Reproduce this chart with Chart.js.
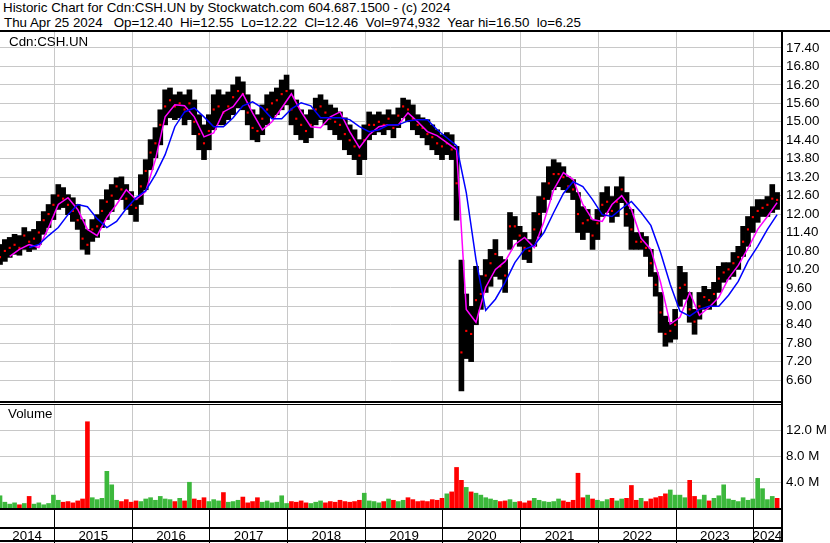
<!DOCTYPE html>
<html lang="en">
<head>
<meta charset="UTF-8">
<title>Historic Chart for Cdn:CSH.UN</title>
<script src="https://cdn.jsdelivr.net/npm/chart.js"></script>
<style>
  body { margin: 0; background: #fff; font-family: Arial, "Liberation Sans", sans-serif; }
  #wrap { position: relative; width: 830px; height: 543px; overflow: hidden; background: #fff; }
  .txt { position: absolute; font-size: 13.33px; line-height: 14px; color: #000; white-space: pre; }
  .ln { position: absolute; background: #000; }
  #priceBox { position: absolute; left: 0; top: 32px; }
  #volBox { position: absolute; left: 0; top: 405px; }
</style>
</head>
<body>
<div id="wrap">
  <div class="txt" style="left:3px;top:1px">Historic Chart for Cdn:CSH.UN by Stockwatch.com 604.687.1500 - (c) 2024</div>
  <div class="txt" style="left:4px;top:16px">Thu Apr 25 2024   Op=12.40  Hi=12.55  Lo=12.22  Cl=12.46  Vol=974,932  Year hi=16.50  lo=6.25</div>

  <div id="priceBox"><canvas id="price" width="830" height="369"></canvas></div>
  <div id="volBox"><canvas id="vol" width="830" height="138"></canvas></div>

  <div class="txt" style="left:9px;top:35px">Cdn:CSH.UN</div>
  <div class="txt" style="left:8px;top:407px">Volume</div>

  <!-- frame lines -->
  <div class="ln" style="left:0;top:30px;width:830px;height:2px"></div>
  <div class="ln" style="left:781px;top:30px;width:2px;height:512px"></div>
  <div class="ln" style="left:0;top:401px;width:781px;height:2px"></div>
  <div class="ln" style="left:0;top:404px;width:781px;height:1px"></div>
  <div class="ln" style="left:0;top:508px;width:781px;height:2px"></div>
  <div class="ln" style="left:0;top:527px;width:781px;height:2px"></div>
  <div class="ln" style="left:0;top:540px;width:783px;height:2px"></div>
</div>

<script>
// ---- data ----
// one bar every 1/16 year starting mid-April 2014
const START = 2014.30;
const STEP = 1 / 16;
const MA_STEP = 1 / 8;
const X_MIN = 2014.30;
const X_MAX = 2024.35;

const highs = [
  11.01, 11.17, 11.24, 11.34, 11.30, 11.56, 11.43, 11.50, 11.76, 12.08,
  12.31, 12.63, 12.96, 12.86, 12.63, 12.53, 12.31, 11.82, 11.50, 11.82,
  11.98, 12.47, 12.79, 12.96, 13.18, 13.21, 12.96, 12.73, 12.47, 13.28,
  13.77, 14.42, 14.81, 15.39, 16.04, 16.10, 15.88, 15.97, 15.88, 16.04,
  15.71, 15.23, 14.90, 15.23, 15.88, 16.04, 15.88, 15.97, 16.20, 16.46,
  16.30, 15.88, 15.39, 15.23, 15.55, 15.88, 15.97, 16.10, 16.36, 16.52,
  16.04, 15.71, 15.39, 15.23, 15.39, 15.77, 15.88, 15.71, 15.55, 15.45,
  15.32, 15.13, 14.90, 14.74, 14.42, 14.90, 15.32, 15.23, 15.32, 15.23,
  15.39, 15.23, 15.45, 15.77, 15.71, 15.55, 15.23, 15.13, 15.07, 14.90,
  14.74, 14.58, 14.65, 14.58, 14.20, 10.50, 9.40, 9.00, 10.30, 10.00,
  10.52, 10.85, 11.17, 10.62, 10.52, 12.05, 11.92, 11.60, 11.40, 11.17,
  12.05, 12.57, 13.02, 13.54, 13.77, 13.67, 13.54, 13.21, 13.12, 12.70,
  12.24, 12.15, 11.82, 12.15, 12.70, 12.89, 12.57, 12.89, 13.21, 12.70,
  12.15, 11.40, 11.40, 11.27, 10.85, 10.10, 9.45, 8.68, 8.48, 8.90,
  10.30, 10.10, 9.45, 8.90, 9.45, 9.65, 9.55, 9.78, 10.30, 10.42,
  10.42, 10.75, 10.95, 11.60, 11.92, 12.24, 12.47, 12.47, 12.57, 12.96,
  12.70
];
const lows = [
  10.36, 10.46, 10.59, 10.69, 10.66, 10.85, 10.78, 10.85, 11.01, 11.34,
  11.56, 11.82, 12.15, 12.21, 11.98, 11.76, 11.50, 10.85, 10.69, 11.11,
  11.24, 11.56, 11.82, 12.08, 12.47, 12.47, 12.15, 11.98, 11.76, 12.31,
  12.79, 13.44, 13.83, 14.25, 14.90, 15.13, 15.07, 15.13, 14.90, 15.07,
  14.58, 14.09, 13.77, 14.09, 14.74, 14.90, 14.90, 15.07, 15.23, 15.45,
  15.39, 14.90, 14.42, 14.35, 14.58, 14.90, 15.13, 15.23, 15.39, 15.55,
  14.90, 14.58, 14.42, 14.32, 14.48, 14.90, 15.07, 14.90, 14.74, 14.58,
  14.42, 14.09, 13.93, 13.77, 13.28, 13.77, 14.42, 14.58, 14.67, 14.58,
  14.74, 14.48, 14.81, 15.13, 15.00, 14.74, 14.58, 14.48, 14.25, 14.09,
  13.93, 13.77, 13.93, 13.77, 11.80, 6.25, 7.30, 7.20, 8.40, 8.90,
  9.45, 9.65, 9.97, 9.88, 9.45, 10.85, 11.17, 10.95, 10.52, 10.42,
  10.95, 11.27, 12.05, 12.47, 12.79, 12.89, 12.79, 12.70, 12.47, 11.40,
  11.17, 11.40, 10.85, 11.17, 11.92, 12.05, 11.73, 11.92, 12.37, 11.60,
  10.85, 10.85, 10.85, 10.62, 9.97, 9.33, 8.15, 7.70, 7.83, 7.93,
  9.00, 9.23, 8.48, 8.09, 8.58, 8.90, 8.90, 9.00, 9.45, 9.78,
  9.88, 9.97, 10.20, 10.62, 10.95, 11.40, 11.73, 11.92, 11.92, 12.05,
  12.15
];
const closes = [
  10.6, 10.8, 10.9, 11.0, 10.9, 11.3, 11.1, 11.2, 11.4, 11.8,
  12.0, 12.3, 12.6, 12.5, 12.3, 12.1, 11.8, 11.2, 11.0, 11.5,
  11.6, 12.1, 12.4, 12.6, 12.9, 12.8, 12.5, 12.3, 12.2, 12.9,
  13.4, 14.0, 14.3, 14.9, 15.5, 15.7, 15.5, 15.6, 15.4, 15.6,
  15.0, 14.6, 14.3, 14.7, 15.4, 15.5, 15.3, 15.5, 15.8, 16.0,
  15.9, 15.3, 14.8, 14.7, 15.1, 15.4, 15.6, 15.7, 15.9, 16.0,
  15.4, 15.1, 14.9, 14.7, 14.9, 15.4, 15.5, 15.3, 15.1, 15.0,
  14.9, 14.6, 14.4, 14.2, 13.9, 14.4, 14.9, 14.9, 15.0, 14.9,
  15.1, 14.8, 15.2, 15.5, 15.4, 15.1, 14.9, 14.8, 14.6, 14.5,
  14.3, 14.2, 14.3, 14.1, 13.0, 7.5, 8.2, 8.1, 9.2, 9.4,
  10.0, 10.4, 10.7, 10.3, 10.0, 11.6, 11.6, 11.3, 10.9, 10.8,
  11.5, 12.0, 12.5, 13.0, 13.3, 13.3, 13.2, 12.9, 12.8, 12.0,
  11.7, 11.8, 11.3, 11.7, 12.3, 12.4, 12.1, 12.4, 12.8, 12.0,
  11.5, 11.1, 11.1, 10.9, 10.4, 9.7, 8.8, 8.1, 8.2, 8.4,
  9.6, 9.7, 8.9, 8.5, 9.0, 9.3, 9.2, 9.4, 9.9, 10.1,
  10.2, 10.4, 10.6, 11.1, 11.5, 11.9, 12.1, 12.2, 12.3, 12.5,
  12.46
];
// volume in millions of units
const volumes = [
  1.9, 0.9, 0.6, 0.8, 0.5, 0.7, 1.8, 0.6, 0.8, 0.5,
  0.7, 2.0, 1.2, 0.9, 1.0, 0.8, 1.1, 1.4, 13.4, 1.6,
  1.3, 1.5, 5.7, 3.6, 1.2, 1.0, 1.3, 0.9, 1.1, 1.0,
  1.4, 1.6, 1.2, 1.8, 1.4, 1.3, 1.0, 1.5, 1.1, 4.0,
  1.4, 1.2, 1.6, 1.0, 1.3, 1.1, 2.4, 0.9, 1.0, 1.2,
  1.7, 0.8, 1.0, 1.6, 0.9, 1.1, 0.8, 0.9, 1.9, 0.7,
  1.0, 0.9, 1.1, 0.8, 0.7, 0.9, 1.1, 0.8, 1.0, 0.9,
  1.2, 1.0, 0.9, 1.0, 1.2, 2.3, 1.1, 1.0, 0.8, 1.0,
  1.4, 1.2, 1.0, 1.2, 1.6, 1.3, 1.0, 1.1, 1.0, 1.3,
  1.2, 1.5, 2.2, 2.5, 6.3, 4.3, 3.2, 2.5, 2.3, 2.0,
  1.6, 1.4, 1.2, 1.0, 1.1, 1.3, 0.9, 1.0, 0.8, 1.1,
  1.5, 1.2, 1.0, 0.9, 1.0, 1.4, 1.1, 0.9, 1.2, 5.4,
  1.6, 2.0, 1.4, 1.2, 1.0, 1.3, 1.5, 1.1, 1.4, 1.5,
  3.5, 1.2, 1.5, 1.0, 1.4, 1.6, 1.8, 2.2, 2.8, 2.0,
  2.0, 1.6, 4.3, 1.8, 1.3, 2.0, 1.1, 1.5, 1.9, 3.6,
  1.4, 1.2, 1.0, 1.6, 1.2, 1.4, 4.6, 3.0, 1.3, 1.8,
  1.5
];
// moving averages, one value every 1/8 year
const maShort = [
  null, 10.62, 10.85, 11.01, 10.91, 11.56, 12.31, 12.53, 12.15, 11.50,
  11.30, 11.89, 12.31, 12.79, 12.47, 12.73, 13.77, 15.16, 15.55, 15.52,
  15.16, 14.51, 14.64, 15.32, 15.49, 15.91, 15.29, 14.74, 15.00, 15.45,
  15.91, 15.32, 14.84, 14.81, 15.16, 15.32, 14.68, 14.16, 14.58, 14.84,
  14.90, 14.90, 15.29, 15.00, 14.68, 14.55, 14.32, 14.09, 8.90, 8.48,
  9.62, 10.20, 10.46, 11.01, 11.24, 10.91, 11.76, 12.79, 13.35, 13.12,
  12.31, 11.82, 11.76, 12.31, 12.60, 12.15, 11.21, 10.85, 9.78, 8.42,
  8.64, 9.45, 8.71, 8.97, 9.29, 9.91, 10.33, 10.88, 11.50, 11.92,
  12.37
];
const maLong = [
  null, null, null, 10.91, 11.01, 11.30, 11.56, 11.98, 12.31, 12.24,
  11.85, 11.56, 11.76, 12.18, 12.53, 12.76, 13.28, 13.93, 14.84, 15.32,
  15.45, 15.16, 14.84, 14.84, 15.13, 15.52, 15.65, 15.45, 15.10, 15.10,
  15.42, 15.62, 15.52, 15.13, 15.13, 15.13, 15.07, 14.84, 14.68, 14.74,
  14.90, 14.90, 15.03, 15.07, 15.07, 14.74, 14.48, 14.22, 12.70, 10.52,
  8.87, 9.23, 9.78, 10.42, 10.85, 10.98, 11.40, 12.05, 12.67, 13.05,
  12.89, 12.47, 11.98, 11.92, 12.18, 12.41, 12.05, 11.63, 10.75, 9.71,
  8.84, 8.68, 8.90, 9.00, 9.00, 9.36, 9.81, 10.46, 10.95, 11.50,
  11.98
];
const priceTicks = [6.6, 7.2, 7.8, 8.4, 9.0, 9.6, 10.2, 10.8, 11.4, 12.0, 12.6, 13.2, 13.8, 14.4, 15.0, 15.6, 16.2, 16.8, 17.4];
const volTicks = [4, 8, 12];
const years = [2014, 2015, 2016, 2017, 2018, 2019, 2020, 2021, 2022, 2023, 2024];

// ---- helpers ----
const FONT = { family: 'Arial, "Liberation Sans", sans-serif', size: 13.33 };
const GRID = '#c8c8c8';
const xAt = i => START + i * STEP;
const yearBounds = years.slice(1);
const yearMids = years.map(y => (Math.max(y, X_MIN) + Math.min(y + 1, X_MAX)) / 2);

const rangeData = highs.map((h, i) => ({ x: xAt(i), y: [lows[i], h] }));
const closeData = closes.map((c, i) => ({ x: xAt(i), y: c }));
const maPts = arr => arr.map((v, j) => ({ x: START + j * MA_STEP, y: v })).filter(p => p.y !== null);
const volData = volumes.map((v, i) => ({ x: xAt(i), y: v }));
const volColors = closes.map((c, i) => (i === 0 || c >= closes[i - 1]) ? '#3cb83c' : '#ff0000');

// stop the axes from eating space for their label overhang
const noPad = s => { s.paddingTop = 0; s.paddingBottom = 0; s.paddingLeft = 0; s.paddingRight = 0; };

const commonX = {
  type: 'linear', min: X_MIN, max: X_MAX, offset: false,
  afterBuildTicks: s => { s.ticks = yearBounds.map(v => ({ value: v })); },
  ticks: { display: false },
  border: { display: false }
};

// ---- price chart ----
new Chart(document.getElementById('price'), {
  type: 'bar',
  data: {
    datasets: [
      { type: 'line', label: 'MA short', data: maPts(maShort), borderColor: '#ff00ff', borderWidth: 1.5,
        pointRadius: 0, pointHoverRadius: 0, tension: 0, order: 1 },
      { type: 'line', label: 'MA long', data: maPts(maLong), borderColor: '#0000ff', borderWidth: 1.5,
        pointRadius: 0, pointHoverRadius: 0, tension: 0, order: 0 },
      { type: 'line', label: 'Close', data: closeData, showLine: false, pointStyle: 'rect',
        pointRadius: 1.5, pointHoverRadius: 0, pointBackgroundColor: '#ff0000', pointBorderWidth: 0, order: 2 },
      { type: 'bar', label: 'Range', data: rangeData, backgroundColor: '#000', barThickness: 5,
        grouped: false, order: 3 }
    ]
  },
  options: {
    responsive: false, animation: false, events: [],
    layout: { padding: 0, autoPadding: false },
    plugins: { legend: { display: false }, tooltip: { enabled: false } },
    scales: {
      x: Object.assign({}, commonX, {
        grid: { color: GRID, drawTicks: false, offset: false },
        afterFit: s => { s.height = 0; noPad(s); }
      }),
      y: {
        position: 'right', min: 5.92, max: 17.92,
        afterBuildTicks: s => { s.ticks = priceTicks.map(v => ({ value: v })); },
        ticks: { callback: v => v.toFixed(2), color: '#000', font: FONT, padding: 5 },
        grid: { color: GRID, drawTicks: false },
        border: { display: false },
        afterFit: s => { s.width = 49; noPad(s); }
      }
    }
  }
});

// ---- volume chart ----
new Chart(document.getElementById('vol'), {
  type: 'bar',
  data: {
    datasets: [
      { label: 'Volume', data: volData, backgroundColor: volColors, barThickness: 4, grouped: false }
    ]
  },
  options: {
    responsive: false, animation: false, events: [],
    layout: { padding: 0, autoPadding: false },
    plugins: { legend: { display: false }, tooltip: { enabled: false } },
    scales: {
      x: Object.assign({}, commonX, {
        position: 'bottom',
        grid: { color: GRID, tickColor: '#000', tickLength: 37, offset: false },
        afterFit: s => { s.height = 19; noPad(s); }
      }),
      x2: {
        type: 'linear', position: 'bottom', min: X_MIN, max: X_MAX, offset: false,
        afterBuildTicks: s => { s.ticks = yearMids.map(v => ({ value: v })); },
        ticks: { callback: (v, i) => String(years[i]), color: '#000', font: FONT, padding: 1,
                 autoSkip: false, maxRotation: 0 },
        grid: { display: false, drawTicks: false },
        border: { display: false },
        afterFit: s => { s.height = 16; noPad(s); }
      },
      y: {
        position: 'right', min: 0, max: 16,
        afterBuildTicks: s => { s.ticks = volTicks.map(v => ({ value: v })); },
        ticks: { callback: v => v.toFixed(1) + ' M', color: '#000', font: FONT, padding: 5 },
        grid: { color: GRID, drawTicks: false },
        border: { display: false },
        afterFit: s => { s.width = 49; noPad(s); }
      }
    }
  }
});
</script>
</body>
</html>
